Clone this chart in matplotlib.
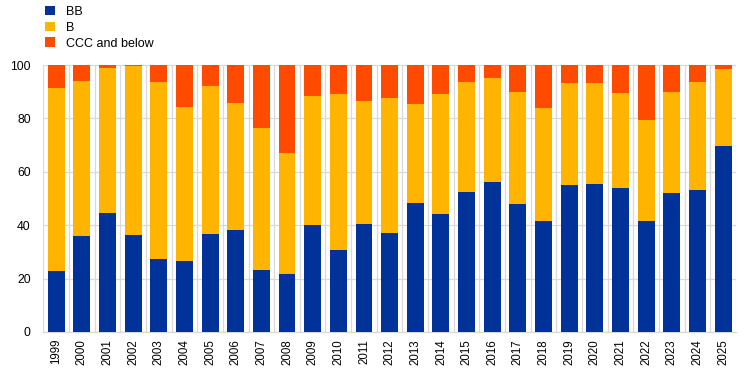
import matplotlib.pyplot as plt
import numpy as np

plt.rcParams['font.family'] = ['Liberation Sans', 'DejaVu Sans']

years = [str(y) for y in range(1999, 2026)]
# share of issuance by rating, percent
bb = [22.8, 35.9, 44.5, 36.3, 27.3, 26.5, 36.6, 38.1, 23.1, 21.6,
      40.0, 30.6, 40.4, 37.0, 48.3, 44.1, 52.4, 56.1, 47.9, 41.5,
      55.0, 55.4, 53.9, 41.5, 52.0, 53.1, 69.6]
bb_plus_b = [91.4, 94.0, 98.9, 99.7, 93.6, 84.3, 92.1, 85.8, 76.4, 67.0,
             88.4, 89.1, 86.5, 87.6, 85.4, 89.1, 93.6, 95.1, 89.9, 83.9,
             93.3, 93.3, 89.5, 79.4, 89.9, 93.6, 98.5]
b = [t - x for t, x in zip(bb_plus_b, bb)]
ccc = [100 - t for t in bb_plus_b]

colors = {'BB': '#003299', 'B': '#FFB400', 'CCC and below': '#FF4B00'}

fig = plt.figure(figsize=(7.44, 3.74), dpi=100)
ax = fig.add_axes([0.0582, 0.1123, 0.9310, 0.7139])

x = np.arange(len(years))
w = 0.66
ax.bar(x, bb, w, color=colors['BB'], label='BB', zorder=3)
ax.bar(x, b, w, bottom=bb, color=colors['B'], label='B', zorder=3)
ax.bar(x, ccc, w, bottom=bb_plus_b, color=colors['CCC and below'],
       label='CCC and below', zorder=3)

ax.set_xlim(-0.5, len(years) - 0.5)
ax.set_ylim(0, 100)
ax.set_yticks(range(0, 101, 20))
ax.set_xticks(x)
ax.set_xticklabels(years, rotation=90, fontsize=8.3)
ax.set_xticks(np.arange(-0.5, len(years), 1), minor=True)
ax.tick_params(axis='y', labelsize=8.7, length=0, pad=9)
ax.tick_params(axis='x', which='both', length=0, pad=5)

ax.grid(axis='y', color='#d9d9d9', linewidth=0.9, zorder=0)
ax.grid(axis='x', which='minor', color='#d9d9d9', linewidth=0.9, zorder=0)
for s in ax.spines.values():
    s.set_visible(False)
ax.spines['bottom'].set_visible(True)
ax.spines['bottom'].set_color('#d9d9d9')
ax.spines['bottom'].set_linewidth(0.9)

leg = fig.legend(loc='upper left', bbox_to_anchor=(0.045, 1.015), frameon=False,
                 fontsize=9, handlelength=0.8, handleheight=0.8,
                 handletextpad=0.9, labelspacing=0.3)

fig.savefig('out.png', dpi=100)
